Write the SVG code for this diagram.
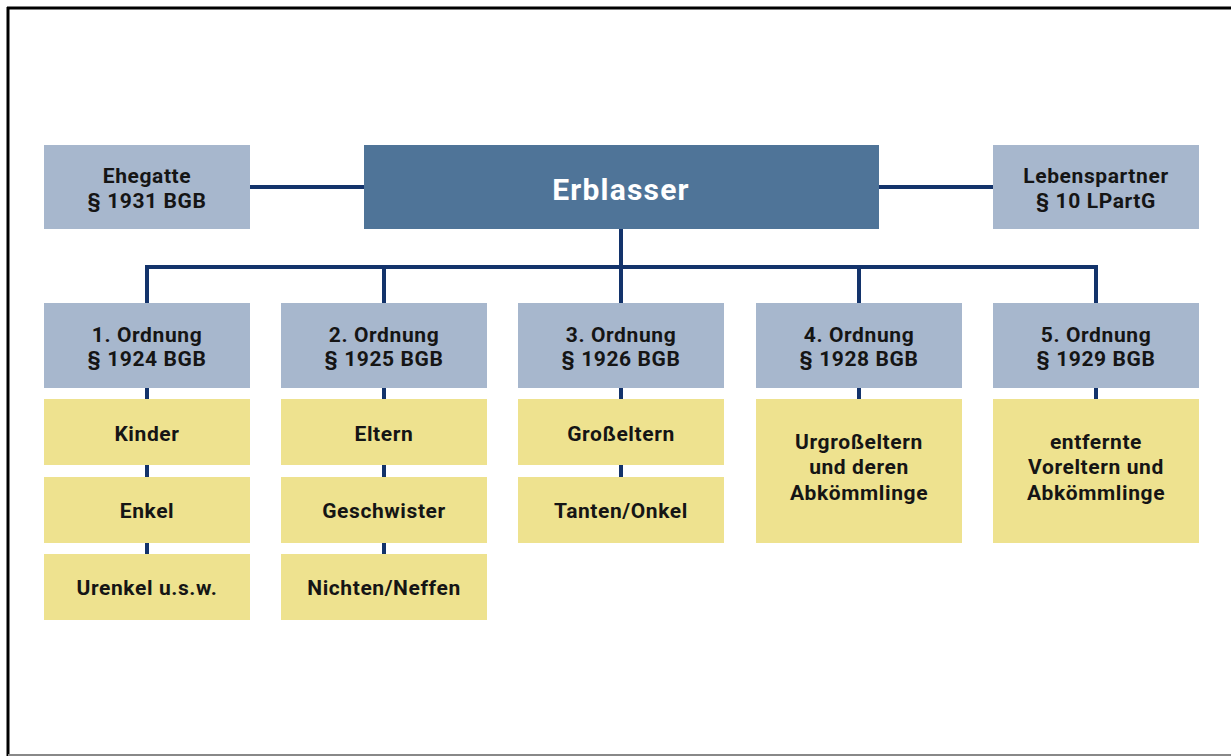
<svg xmlns="http://www.w3.org/2000/svg" width="1231" height="756" viewBox="0 0 1231 756">
<style>
.g{fill:#a7b7cd}
.m{fill:#4f7498}
.y{fill:#eee28f}
.t{font-family:Roboto,"Liberation Sans",sans-serif;font-weight:bold;font-size:21px;fill:#151515;text-anchor:middle;letter-spacing:0.6px}
.big{font-family:Roboto,"Liberation Sans",sans-serif;font-weight:bold;font-size:30px;fill:#ffffff;text-anchor:middle;letter-spacing:1.2px}
.c{stroke:#13336b;stroke-width:4;fill:none}
</style>
<rect x="0" y="0" width="1231" height="756" fill="#ffffff"/>
<line x1="7" y1="8" x2="1231" y2="8" stroke="#000" stroke-width="3"/>
<line x1="8" y1="7" x2="8" y2="756" stroke="#000" stroke-width="3"/>
<line x1="8" y1="755" x2="1231" y2="755" stroke="#888" stroke-width="2"/>
<g id="connectors">
<line class="c" x1="249" y1="187" x2="364" y2="187"/>
<line class="c" x1="879" y1="187" x2="993" y2="187"/>
<line class="c" x1="621" y1="229" x2="621" y2="267"/>
<polyline class="c" points="147,303 147,267 1096,267 1096,303"/>
<line class="c" x1="384" y1="267" x2="384" y2="303"/>
<line class="c" x1="621" y1="267" x2="621" y2="303"/>
<line class="c" x1="859" y1="267" x2="859" y2="303"/>
<line class="c" x1="147" y1="388" x2="147" y2="399"/>
<line class="c" x1="147" y1="465" x2="147" y2="477"/>
<line class="c" x1="147" y1="543" x2="147" y2="554"/>
<line class="c" x1="384" y1="388" x2="384" y2="399"/>
<line class="c" x1="384" y1="465" x2="384" y2="477"/>
<line class="c" x1="384" y1="543" x2="384" y2="554"/>
<line class="c" x1="621" y1="388" x2="621" y2="399"/>
<line class="c" x1="621" y1="465" x2="621" y2="477"/>
<line class="c" x1="859" y1="388" x2="859" y2="399"/>
<line class="c" x1="1096" y1="388" x2="1096" y2="399"/>
</g>
<g id="ehegatte"><rect class="g" x="44" y="145" width="206" height="84"/><text class="t" x="147" y="183">Ehegatte</text><text class="t" x="147" y="208">§ 1931 BGB</text></g>
<g id="erblasser"><rect class="m" x="364" y="145" width="515" height="84"/><text class="big" x="621" y="200">Erblasser</text></g>
<g id="lebenspartner"><rect class="g" x="993" y="145" width="206" height="84"/><text class="t" x="1096" y="183">Lebenspartner</text><text class="t" x="1096" y="208">§ 10 LPartG</text></g>

<g id="o1"><rect class="g" x="44" y="303" width="206" height="85"/><text class="t" x="147" y="342">1. Ordnung</text><text class="t" x="147" y="366">§ 1924 BGB</text></g>
<g id="o2"><rect class="g" x="281" y="303" width="206" height="85"/><text class="t" x="384" y="342">2. Ordnung</text><text class="t" x="384" y="366">§ 1925 BGB</text></g>
<g id="o3"><rect class="g" x="518" y="303" width="206" height="85"/><text class="t" x="621" y="342">3. Ordnung</text><text class="t" x="621" y="366">§ 1926 BGB</text></g>
<g id="o4"><rect class="g" x="756" y="303" width="206" height="85"/><text class="t" x="859" y="342">4. Ordnung</text><text class="t" x="859" y="366">§ 1928 BGB</text></g>
<g id="o5"><rect class="g" x="993" y="303" width="206" height="85"/><text class="t" x="1096" y="342">5. Ordnung</text><text class="t" x="1096" y="366">§ 1929 BGB</text></g>

<g id="kinder"><rect class="y" x="44" y="399" width="206" height="66"/><text class="t" x="147" y="441">Kinder</text></g>
<g id="enkel"><rect class="y" x="44" y="477" width="206" height="66"/><text class="t" x="147" y="518">Enkel</text></g>
<g id="urenkel"><rect class="y" x="44" y="554" width="206" height="66"/><text class="t" x="147" y="595">Urenkel u.s.w.</text></g>

<g id="eltern"><rect class="y" x="281" y="399" width="206" height="66"/><text class="t" x="384" y="441">Eltern</text></g>
<g id="geschwister"><rect class="y" x="281" y="477" width="206" height="66"/><text class="t" x="384" y="518">Geschwister</text></g>
<g id="nichten"><rect class="y" x="281" y="554" width="206" height="66"/><text class="t" x="384" y="595">Nichten/Neffen</text></g>

<g id="grosseltern"><rect class="y" x="518" y="399" width="206" height="66"/><text class="t" x="621" y="441">Großeltern</text></g>
<g id="tanten"><rect class="y" x="518" y="477" width="206" height="66"/><text class="t" x="621" y="518">Tanten/Onkel</text></g>

<g id="urgrosseltern"><rect class="y" x="756" y="399" width="206" height="144"/><text class="t" x="859" y="449">Urgroßeltern</text><text class="t" x="859" y="474">und deren</text><text class="t" x="859" y="500">Abkömmlinge</text></g>
<g id="voreltern"><rect class="y" x="993" y="399" width="206" height="144"/><text class="t" x="1096" y="449">entfernte</text><text class="t" x="1096" y="474">Voreltern und</text><text class="t" x="1096" y="500">Abkömmlinge</text></g>
</svg>
